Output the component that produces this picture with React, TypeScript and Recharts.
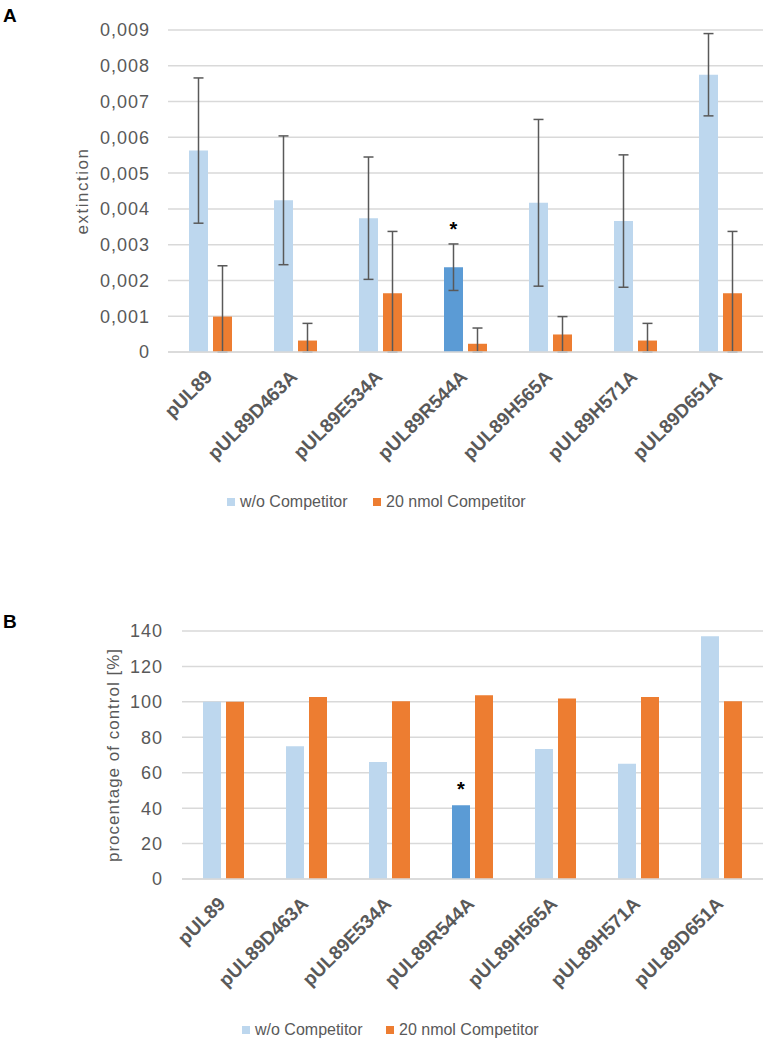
import React from "react"
import {
  BarChart,
  Bar,
  XAxis,
  YAxis,
  CartesianGrid,
  ErrorBar,
  Cell,
  LabelList,
} from "recharts"

const categories = [
  "pUL89",
  "pUL89D463A",
  "pUL89E534A",
  "pUL89R544A",
  "pUL89H565A",
  "pUL89H571A",
  "pUL89D651A",
]

// panel A: extinction (means and error values)
const extWithout = [0.00563, 0.00424, 0.00374, 0.00237, 0.00417, 0.00366, 0.00775]
const extWithoutErr = [0.00203, 0.0018, 0.00171, 0.00065, 0.00233, 0.00185, 0.00115]
const extCompetitor = [0.00099, 0.00032, 0.00164, 0.00023, 0.00049, 0.00032, 0.00164]
const extCompetitorErr = [0.00142, 0.00048, 0.00173, 0.00044, 0.0005, 0.00048, 0.00173]
const extTicks = [0, 0.001, 0.002, 0.003, 0.004, 0.005, 0.006, 0.007, 0.008, 0.009]

// panel B: percentage of control
const pctWithout = [100, 75, 66.1, 41.6, 73.4, 65, 137]
const pctCompetitor = [100, 102.8, 100.3, 103.8, 101.9, 102.8, 100.3]
const pctTicks = [0, 20, 40, 60, 80, 100, 120, 140]

const significant = [false, false, false, true, false, false, false]

const seriesNames = ["w/o Competitor", "20 nmol Competitor"]

const LIGHT_BLUE = "#BDD7EE"
const DARK_BLUE = "#5B9BD5"
const ORANGE = "#ED7D31"
const GRAY = "#595959"
const GRID = "#D9D9D9"
const FONT = "'Liberation Sans', Arial, sans-serif"

// lower error is clipped at the axis (bars start at 0)
const dataA = categories.map((name, i) => ({
  name,
  without: extWithout[i],
  competitor: extCompetitor[i],
  withoutErr: [Math.min(extWithoutErr[i], extWithout[i]), extWithoutErr[i]],
  competitorErr: [Math.min(extCompetitorErr[i], extCompetitor[i]), extCompetitorErr[i]],
  sig: significant[i],
}))

const dataB = categories.map((name, i) => ({
  name,
  without: pctWithout[i],
  competitor: pctCompetitor[i],
  sig: significant[i],
}))

const CategoryTick = ({ x, y, payload }: any) => (
  <g transform={`translate(${x + 3},${y + 26})`}>
    <text
      textAnchor="end"
      transform="rotate(-45)"
      fill={GRAY}
      fontSize={19}
      fontWeight="bold"
      fontFamily={FONT}
    >
      {payload.value}
    </text>
  </g>
)

const formatExt = (v: number) => (v === 0 ? "0" : v.toFixed(3).replace(".", ","))

const Legend = ({ top, left, secondLeft }: { top: number; left: number; secondLeft: number }) => {
  const item = (color: string, text: string, l: number) => (
    <div
      style={{
        position: "absolute",
        top,
        left: l,
        height: 20,
        display: "flex",
        alignItems: "center",
        fontFamily: FONT,
        fontSize: 16,
        color: GRAY,
        whiteSpace: "nowrap",
      }}
    >
      <span style={{ width: 8, height: 8, background: color, marginRight: 5, display: "inline-block" }} />
      {text}
    </div>
  )
  return (
    <>
      {item(LIGHT_BLUE, seriesNames[0], left)}
      {item(ORANGE, seriesNames[1], secondLeft)}
    </>
  )
}

const PanelLetter = ({ top, text }: { top: number; text: string }) => (
  <div
    style={{
      position: "absolute",
      top,
      left: 3,
      fontFamily: FONT,
      fontWeight: "bold",
      fontSize: 19,
      color: "#000",
      lineHeight: 1,
    }}
  >
    {text}
  </div>
)

const tickStyle = { fontSize: 18, fill: GRAY, fontFamily: FONT, letterSpacing: 1 }

export default function App() {
  return (
    <div style={{ position: "absolute", top: 0, left: 0, width: 766, height: 1041, background: "#fff" }}>
      <PanelLetter top={6} text="A" />
      <div style={{ position: "absolute", top: 0, left: 0 }}>
        <BarChart
          width={766}
          height={485}
          data={dataA}
          margin={{ top: 30, right: 3, left: 0, bottom: 0 }}
          barSize={19}
          barGap={5}
        >
          <CartesianGrid vertical={false} stroke={GRID} strokeWidth={1.5} />
          <XAxis
            dataKey="name"
            interval={0}
            height={133}
            tickLine={false}
            tickSize={0}
            tickMargin={0}
            axisLine={{ stroke: GRID, strokeWidth: 1.5 }}
            tick={<CategoryTick />}
          />
          <YAxis
            width={168}
            domain={[0, 0.009]}
            ticks={extTicks}
            axisLine={false}
            tickLine={false}
            tickSize={0}
            tickMargin={18}
            tick={tickStyle}
            tickFormatter={formatExt}
            label={{
              value: "extinction",
              angle: -90,
              position: "center",
              dx: -2,
              style: { fontSize: 17, fill: GRAY, fontFamily: FONT, letterSpacing: 1.5 },
            }}
          />
          <Bar dataKey="without" isAnimationActive={false}>
            {dataA.map((d, i) => (
              <Cell key={i} fill={d.sig ? DARK_BLUE : LIGHT_BLUE} />
            ))}
            <ErrorBar dataKey="withoutErr" width={5} stroke={GRAY} strokeWidth={1.5} />
            <LabelList
              dataKey="sig"
              content={(p: any) => {
                const d = dataA[p.index]
                if (!d || !d.sig) return null
                const errTop = p.y - p.height * (d.withoutErr[1] / d.without)
                return (
                  <text x={p.x + p.width / 2} y={errTop - 8} textAnchor="middle" fontSize={20} fontWeight="bold" fontFamily={FONT} fill="#000">
                    *
                  </text>
                )
              }}
            />
          </Bar>
          <Bar dataKey="competitor" fill={ORANGE} isAnimationActive={false}>
            <ErrorBar dataKey="competitorErr" width={5} stroke={GRAY} strokeWidth={1.5} />
          </Bar>
        </BarChart>
      </div>
      <Legend top={492} left={227} secondLeft={373} />

      <PanelLetter top={612} text="B" />
      <div style={{ position: "absolute", top: 600, left: 0 }}>
        <BarChart
          width={766}
          height={415}
          data={dataB}
          margin={{ top: 31, right: 3, left: 0, bottom: 0 }}
          barSize={18}
          barGap={5}
        >
          <CartesianGrid vertical={false} stroke={GRID} strokeWidth={1.5} />
          <XAxis
            dataKey="name"
            interval={0}
            height={136}
            tickLine={false}
            tickSize={0}
            tickMargin={0}
            axisLine={{ stroke: GRID, strokeWidth: 1.5 }}
            tick={<CategoryTick />}
          />
          <YAxis
            width={182}
            domain={[0, 140]}
            ticks={pctTicks}
            axisLine={false}
            tickLine={false}
            tickSize={0}
            tickMargin={19}
            tick={tickStyle}
            label={{
              value: "procentage of control [%]",
              angle: -90,
              position: "center",
              dx: 22,
              style: { fontSize: 17, fill: GRAY, fontFamily: FONT, letterSpacing: 1 },
            }}
          />
          <Bar dataKey="without" isAnimationActive={false}>
            {dataB.map((d, i) => (
              <Cell key={i} fill={d.sig ? DARK_BLUE : LIGHT_BLUE} />
            ))}
            <LabelList
              dataKey="sig"
              content={(p: any) => {
                const d = dataB[p.index]
                if (!d || !d.sig) return null
                return (
                  <text x={p.x + p.width / 2} y={p.y - 9} textAnchor="middle" fontSize={20} fontWeight="bold" fontFamily={FONT} fill="#000">
                    *
                  </text>
                )
              }}
            />
          </Bar>
          <Bar dataKey="competitor" fill={ORANGE} isAnimationActive={false} />
        </BarChart>
      </div>
      <Legend top={1020} left={242} secondLeft={386} />
    </div>
  )
}
